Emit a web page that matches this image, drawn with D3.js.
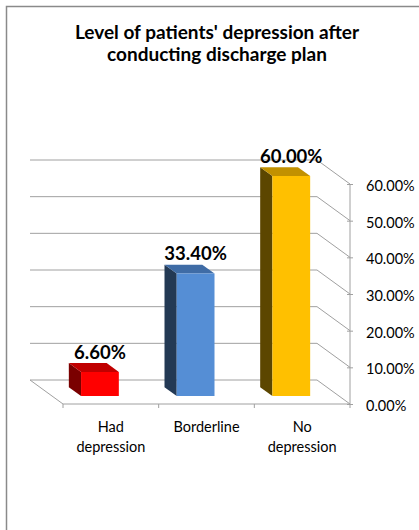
<!DOCTYPE html>
<html><head><meta charset="utf-8">
<script src="https://cdn.jsdelivr.net/npm/d3@7"></script>
<style>html,body{margin:0;padding:0;background:#fff;}svg{display:block;}</style>
</head><body>
<svg id="c" width="419" height="530"></svg>
<script>
const categories = ["Had depression", "Borderline", "No depression"];
const categoryLines = [["Had", "depression"], ["Borderline"], ["No", "depression"]];
const values = [0.066, 0.334, 0.60];
const valueLabels = ["6.60%", "33.40%", "60.00%"];
const tickValues = [0, 0.1, 0.2, 0.3, 0.4, 0.5, 0.6];
const titleLines = ["Level of patients' depression after", "conducting discharge plan"];
const frontColors = ["#ff0000", "#558ed5", "#ffc000"];
const sideColors = ["#7a0000", "#233954", "#5c4600"];
const topColors = ["#c00000", "#3f6ca6", "#c29100"];

const svg = d3.select("#c");
const FONT = "Lato, 'Open Sans', sans-serif";

// chart border (extends past the right/bottom of the image)
svg.append("path").attr("d", "M6.5,530 L6.5,6.5 L419,6.5")
  .attr("fill", "none").attr("stroke", "#8a8a8a").attr("stroke-width", 1.5);

// title
svg.append("text").attr("y", 39).attr("text-anchor", "middle")
  .attr("font-family", FONT).attr("font-weight", "bold").attr("font-size", 19).attr("fill", "#000")
  .selectAll("tspan").data(titleLines).join("tspan")
  .attr("x", 217).attr("dy", (d, i) => i ? 22 : 0).text(d => d);

// scales
const x = d3.scaleBand().domain(categories).range([63, 350]);
const y = d3.scaleLinear().domain([0, 0.6]).range([404, 184]);
const Dx = 33, Dy = 24;
const proj = (xs, v, z) => [xs - Dx * z, y(v) - Dy * z];
const x0 = x.range()[0], x1 = x.range()[1];

const grid = svg.append("g").attr("stroke", "#a0a0a0").attr("stroke-width", 1).attr("fill", "none");
tickValues.forEach(t => {
  const a = proj(x0, t, 1), b = proj(x1, t, 1), c = proj(x1, t, 0);
  grid.append("path").attr("d", `M${a[0]},${a[1]} L${b[0]},${b[1]} L${c[0]},${c[1]}`);
});
// floor left edge
{
  const a = proj(x0, 0, 1), b = proj(x0, 0, 0);
  grid.append("path").attr("d", `M${a[0]},${a[1]} L${b[0]},${b[1]}`);
}

// right value axis
const yAxis = svg.append("g").attr("transform", `translate(${x1},0)`)
  .call(d3.axisRight(y).tickValues(tickValues).tickSize(3).tickFormat(d => d3.format(".2%")(d)));
yAxis.select(".domain").attr("stroke", "#a0a0a0").attr("d", `M0,${y(0.6)}V${y(0)}`);
yAxis.selectAll(".tick line").attr("stroke", "#a0a0a0").attr("x1", -3).attr("x2", 3);
yAxis.selectAll(".tick text").attr("x", 16).attr("dy", "0.45em")
  .attr("font-family", FONT).attr("font-size", 14.5).attr("fill", "#000").attr("text-anchor", "start");

// category axis
const xAxis = svg.append("g").attr("transform", `translate(0,${y(0)})`);
xAxis.append("line").attr("x1", x0).attr("x2", x1).attr("stroke", "#a0a0a0");
const edges = categories.map(c => x(c)).concat([x1]);
xAxis.selectAll(".tk").data(edges).join("line").attr("class", "tk")
  .attr("x1", d => d).attr("x2", d => d).attr("y1", 0).attr("y2", 4).attr("stroke", "#a0a0a0");
xAxis.selectAll(".cl").data(categories).join("text").attr("class", "cl")
  .attr("text-anchor", "middle").attr("font-family", FONT).attr("font-size", 14.5).attr("fill", "#000")
  .attr("y", 28)
  .each(function(c, i) {
    d3.select(this).selectAll("tspan").data(categoryLines[i]).join("tspan")
      .attr("x", x(c) + x.bandwidth() / 2).attr("dy", (d, j) => j ? 20 : 0).text(d => d);
  });

// 3D bars
const z0 = 0.33, z1 = 0.70;
const bw = x.bandwidth() * 0.395;
const bars = svg.append("g");
categories.forEach((c, i) => {
  const cx = x(c) + x.bandwidth() / 2;
  const L = cx - bw / 2, R = cx + bw / 2, v = values[i];
  const fbl = proj(L, 0, z0), ftl = proj(L, v, z0), ftr = proj(R, v, z0), fbr = proj(R, 0, z0);
  const bbl = proj(L, 0, z1), btl = proj(L, v, z1), btr = proj(R, v, z1);
  const poly = pts => "M" + pts.map(p => p.join(",")).join("L") + "Z";
  bars.append("path").attr("d", poly([fbl, ftl, btl, bbl])).attr("fill", sideColors[i]);
  bars.append("path").attr("d", poly([ftl, ftr, btr, btl])).attr("fill", topColors[i]);
  bars.append("path").attr("d", poly([fbl, ftl, ftr, fbr])).attr("fill", frontColors[i]);
  bars.append("text").attr("x", (ftl[0] + ftr[0]) / 2).attr("y", btl[1] - 4.5)
    .attr("text-anchor", "middle").attr("font-family", FONT).attr("font-weight", "bold")
    .attr("font-size", 18.5).attr("fill", "#000").text(valueLabels[i]);
});
</script>
</body></html>
